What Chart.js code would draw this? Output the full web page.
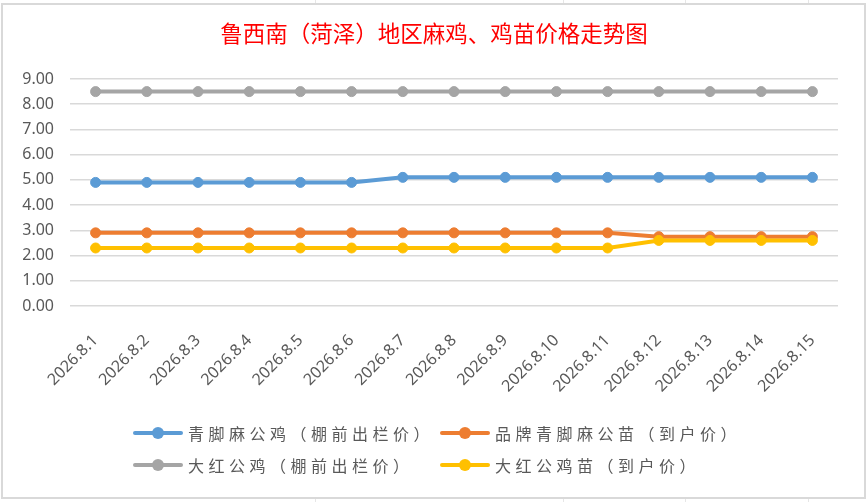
<!DOCTYPE html>
<html lang="zh">

<head>
    <meta charset="UTF-8" />
    <script src="https://cdn.jsdelivr.net/npm/chart.js@4.4.1/dist/chart.umd.min.js"></script>
    <style>
        body { margin: 0; background: #fff; }
        #wrap { position: relative; width: 868px; height: 502px; overflow: hidden; }
        .cell { position: absolute; top: 0; width: 1px; height: 502px; background: #e6e6e6; }
        #frame { position: absolute; left: 1px; top: 3px; width: 861px; height: 492px;
                 border: 2px solid #d9d9d9; background: #fff; }
        #chart { position: absolute; left: 0; top: 0; }
        #legend { position: absolute; left: 133px; top: 417px; display: grid;
                  grid-template-columns: 307px auto; grid-auto-rows: 32px;
                  font-family: "Noto Sans CJK SC", sans-serif; font-size: 16px;
                  letter-spacing: 4.5px; color: #595959; }
        #legend .item { display: flex; align-items: center; white-space: nowrap; }
        #legend .icon { position: relative; width: 50px; height: 12px; margin-right: 5px; flex: none; }
        #legend .icon .ln { position: absolute; left: 0; right: 0; top: 4px; height: 4px; border-radius: 2px; }
        #legend .icon .dt { position: absolute; left: 19px; top: 0; width: 12px; height: 12px; border-radius: 50%; }
    </style>
</head>

<body>
    <div id="wrap">
        <div class="cell" style="left:315px"></div>
        <div class="cell" style="left:563px"></div>
        <div class="cell" style="left:685px"></div>
        <div class="cell" style="left:808px"></div>
        <div id="frame"></div>
        <canvas id="chart" width="868" height="502"></canvas>
        <div id="legend"></div>
    </div>
    <script>
        const title = '鲁西南（菏泽）地区麻鸡、鸡苗价格走势图';
        const labels = ['2026.8.1', '2026.8.2', '2026.8.3', '2026.8.4', '2026.8.5', '2026.8.6', '2026.8.7', '2026.8.8',
            '2026.8.9', '2026.8.10', '2026.8.11', '2026.8.12', '2026.8.13', '2026.8.14', '2026.8.15'];
        const seriesNames = ['青脚麻公鸡（棚前出栏价）', '品牌青脚麻公苗（到户价）', '大红公鸡（棚前出栏价）', '大红公鸡苗（到户价）'];
        const qingjiaoRooster = [4.9, 4.9, 4.9, 4.9, 4.9, 4.9, 5.1, 5.1, 5.1, 5.1, 5.1, 5.1, 5.1, 5.1, 5.1];
        const brandChick = [2.9, 2.9, 2.9, 2.9, 2.9, 2.9, 2.9, 2.9, 2.9, 2.9, 2.9, 2.75, 2.75, 2.75, 2.75];
        const redRooster = [8.5, 8.5, 8.5, 8.5, 8.5, 8.5, 8.5, 8.5, 8.5, 8.5, 8.5, 8.5, 8.5, 8.5, 8.5];
        const redChick = [2.3, 2.3, 2.3, 2.3, 2.3, 2.3, 2.3, 2.3, 2.3, 2.3, 2.3, 2.6, 2.6, 2.6, 2.6];
        const colors = ['#5B9BD5', '#ED7D31', '#A5A5A5', '#FFC000'];

        const values = [qingjiaoRooster, brandChick, redRooster, redChick];
        const datasets = values.map((v, i) => ({
            label: seriesNames[i],
            data: v,
            borderColor: colors[i],
            backgroundColor: colors[i],
            borderWidth: 4,
            pointRadius: 5,
            pointBorderWidth: 1,
            pointHoverRadius: 5,
            tension: 0,
            // later series sit on top, like the original
            order: values.length - i
        }));

        const axisFont = { family: '"Noto Sans", sans-serif', size: 16 };

        const chart = new Chart(document.getElementById('chart'), {
            type: 'line',
            data: { labels: labels, datasets: datasets },
            options: {
                responsive: false,
                animation: false,
                layout: { padding: { left: 0, right: 0, top: 0, bottom: 106 } },
                plugins: {
                    legend: { display: false },
                    tooltip: { enabled: false },
                    title: {
                        display: true,
                        text: title,
                        color: '#FF0000',
                        font: { family: '"Noto Sans CJK SC", sans-serif', size: 22.5, weight: 'normal' },
                        padding: { top: 20, bottom: 32 }
                    }
                },
                scales: {
                    x: {
                        offset: true,
                        grid: { display: false, drawTicks: false },
                        border: { display: false },
                        ticks: { color: '#595959', font: axisFont, minRotation: 45, maxRotation: 45, padding: 25, autoSkip: false },
                        afterFit: s => { s.height = 90; }
                    },
                    y: {
                        min: 0,
                        max: 9,
                        grid: { color: '#d9d9d9', lineWidth: 1.5, drawTicks: false },
                        border: { display: false },
                        ticks: { stepSize: 1, color: '#595959', font: axisFont, padding: 16, callback: v => v.toFixed(2) },
                        afterFit: s => { s.width = 70; }
                    },
                    // empty right axis, only there to leave the right margin
                    spacer: {
                        position: 'right',
                        grid: { display: false },
                        border: { display: false },
                        ticks: { display: false },
                        afterFit: s => { s.width = 30; }
                    }
                }
            }
        });

        // legend, two columns like the spreadsheet one
        const legend = document.getElementById('legend');
        chart.data.datasets.forEach(ds => {
            const item = document.createElement('div');
            item.className = 'item';
            item.innerHTML = '<span class="icon"><span class="ln"></span><span class="dt"></span></span><span></span>';
            item.querySelector('.ln').style.background = ds.borderColor;
            item.querySelector('.dt').style.background = ds.borderColor;
            item.lastChild.textContent = ds.label;
            legend.appendChild(item);
        });
    </script>
</body>

</html>
